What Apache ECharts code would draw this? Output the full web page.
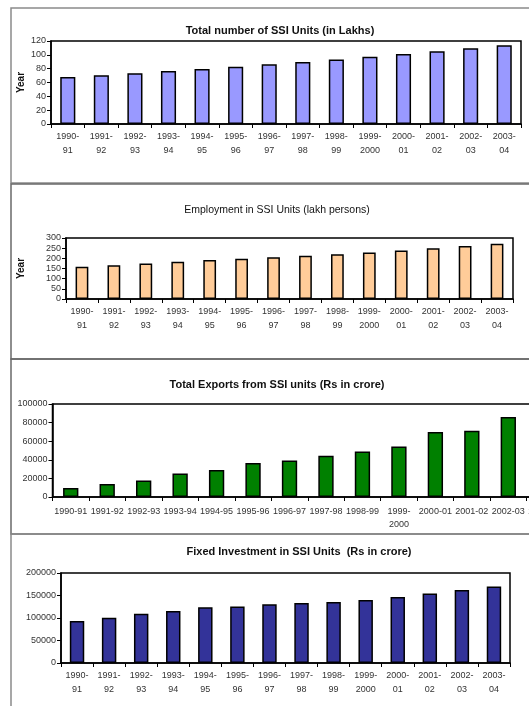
<!DOCTYPE html>
<html>
<head>
<meta charset="utf-8">
<script src="https://cdn.jsdelivr.net/npm/echarts@6/dist/echarts.min.js"></script>
<style>
  html, body { margin: 0; padding: 0; background: #fff; }
  #chart { width: 529px; height: 706px; }
</style>
</head>
<body>
<div id="chart"></div>
<script>
// Small-scale industry (SSI) statistics, 1990-91 to 2003-04
const years = ['1990-91', '1991-92', '1992-93', '1993-94', '1994-95', '1995-96', '1996-97',
               '1997-98', '1998-99', '1999-2000', '2000-01', '2001-02', '2002-03', '2003-04'];
const ssiUnits = [67.87, 70.63, 73.51, 76.49, 79.60, 82.84, 86.21, 89.71, 93.36, 97.15, 101.10, 105.21, 109.49, 113.95];
const employment = [158.34, 165.99, 174.84, 182.64, 191.40, 197.93, 205.86, 213.16, 220.55, 229.10, 238.73, 249.09, 260.21, 271.42];
const exportsValue = [9664, 13883, 17784, 25307, 29068, 36470, 39248, 44442, 48979, 54200, 69797, 71244, 86013, 97644];
const fixedInvestment = [93555, 100351, 109623, 115795, 123790, 125750, 130560, 133242, 135482, 139982, 146845, 154349, 162317, 170219];

const titles = [
  'Total number of SSI Units (in Lakhs)',
  'Employment in SSI Units (lakh persons)',
  'Total Exports from SSI units (Rs in crore)',
  'Fixed Investment in SSI Units  (Rs in crore)'
];
// value-axis ranges [max, interval] per panel
const axisMax = [120, 300, 100000, 200000];
const axisStep = [20, 50, 20000, 50000];

const FONT = "'Liberation Sans', Arial, sans-serif";

const panels = [
  { grid: { left: 51, top: 41, width: 470, height: 83 }, color: '#9999ff', barWidth: '45%',
    data: ssiUnits, titleX: 275, titleY: 20, bold: true, titleSize: 11, yName: 'Year', nameGap: 25,
    split: 'all', lineHeight: 14, margin: 6 },
  { grid: { left: 66, top: 238, width: 447, height: 61 }, color: '#ffcc99', barWidth: '40%',
    data: employment, titleX: 272, titleY: 200, bold: false, titleSize: 10.5, yName: 'Year', nameGap: 40,
    split: 'all', lineHeight: 14, margin: 6 },
  { grid: { left: 52.5, top: 404, width: 510.5, height: 93 }, color: '#008000', barWidth: '42%',
    data: exportsValue, titleX: 272, titleY: 374, bold: true, titleSize: 11, yName: '', nameGap: 0,
    split: 'long', lineHeight: 13, margin: 8 },
  { grid: { left: 61, top: 573, width: 449, height: 90 }, color: '#333399', barWidth: '45%',
    data: fixedInvestment, titleX: 294, titleY: 541, bold: true, titleSize: 11, yName: '', nameGap: 0,
    split: 'all', lineHeight: 14, margin: 6 }
];

function yearLabel(mode) {
  return function (v) {
    if (mode === 'long' && v.length <= 7) return v;
    const i = v.indexOf('-');
    return v.slice(0, i + 1) + '\n' + v.slice(i + 1);
  };
}

const option = {
  backgroundColor: '#ffffff',
  animation: false,
  title: panels.map((p, i) => ({
    text: titles[i],
    left: p.titleX,
    top: p.titleY,
    textAlign: 'center',
    textStyle: { fontFamily: FONT, fontSize: p.titleSize, fontWeight: p.bold ? 'bold' : 'normal', color: '#111' }
  })),
  // panel frames
  graphic: [
    { type: 'rect', shape: { x: 11, y: 8, width: 600, height: 175 }, style: { fill: null, stroke: '#8a8a8a', lineWidth: 1.5 }, z: -1 },
    { type: 'rect', shape: { x: 11, y: 184, width: 600, height: 175 }, style: { fill: null, stroke: '#6a6a6a', lineWidth: 1.5 }, z: -1 },
    { type: 'rect', shape: { x: 11, y: 359, width: 600, height: 175 }, style: { fill: null, stroke: '#6a6a6a', lineWidth: 1.5 }, z: -1 },
    { type: 'rect', shape: { x: 11, y: 534, width: 600, height: 200 }, style: { fill: null, stroke: '#8a8a8a', lineWidth: 1.5 }, z: -1 }
  ],
  grid: panels.map(p => Object.assign({
    show: true, borderColor: '#000', borderWidth: 1.5, backgroundColor: '#fff',
    containLabel: false, outerBoundsMode: 'none'
  }, p.grid)),
  xAxis: panels.map((p, i) => ({
    type: 'category',
    gridIndex: i,
    data: years,
    axisLine: { lineStyle: { color: '#000', width: 1.5 } },
    axisTick: { show: true, length: 4, lineStyle: { color: '#000', width: 1 } },
    axisLabel: {
      interval: 0, fontFamily: FONT, fontSize: 9, color: '#333',
      lineHeight: p.lineHeight, margin: p.margin, formatter: yearLabel(p.split)
    }
  })),
  yAxis: panels.map((p, i) => ({
    type: 'value',
    gridIndex: i,
    min: 0,
    max: axisMax[i],
    interval: axisStep[i],
    name: p.yName,
    nameLocation: 'middle',
    nameGap: p.nameGap,
    nameMoveOverlap: false,
    nameTextStyle: { fontFamily: FONT, fontSize: 10, fontWeight: 'bold', color: '#111' },
    axisLine: { show: true, lineStyle: { color: '#000', width: 1.5 } },
    axisTick: { show: true, length: 4, lineStyle: { color: '#000', width: 1 } },
    splitLine: { show: false },
    axisLabel: { fontFamily: FONT, fontSize: 9, color: '#333', margin: 5, formatter: v => String(v) }
  })),
  series: panels.map((p, i) => ({
    type: 'bar',
    xAxisIndex: i,
    yAxisIndex: i,
    data: p.data,
    barWidth: p.barWidth,
    itemStyle: { color: p.color, borderColor: '#000', borderWidth: 1.5 }
  }))
};

const chart = echarts.init(document.getElementById('chart'), null, { renderer: 'canvas' });
chart.setOption(option);
</script>
</body>
</html>
